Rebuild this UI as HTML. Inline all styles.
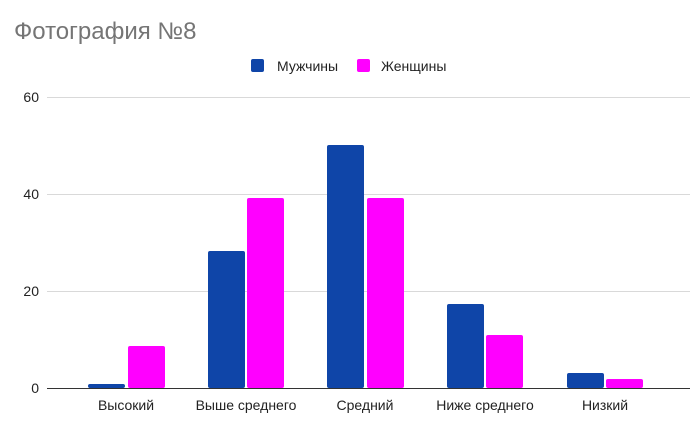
<!DOCTYPE html>
<html><head><meta charset="utf-8"><style>
body{margin:0;background:#fff;}
svg text{font-family:"Liberation Sans",Arial,sans-serif;}
</style></head><body>
<svg width="700" height="426" xmlns="http://www.w3.org/2000/svg">
<rect width="700" height="426" fill="#fff"/>
<text x="14" y="39" font-size="24" fill="#757575">Фотография №8</text>
<rect x="251" y="59" width="13" height="13" rx="2" fill="#0f45a8"/>
<text x="277" y="71" font-size="14" fill="#222">Мужчины</text>
<rect x="357" y="59" width="13" height="13" rx="2" fill="#ff00ff"/>
<text x="381" y="71" font-size="14" fill="#222">Женщины</text>
<g stroke="#d9d9d9" stroke-width="1">
<line x1="47" y1="97.5" x2="690" y2="97.5"/>
<line x1="47" y1="194.5" x2="690" y2="194.5"/>
<line x1="47" y1="291.5" x2="690" y2="291.5"/>
</g>
<g font-size="14" fill="#222" text-anchor="end">
<text x="39" y="102">60</text>
<text x="39" y="199">40</text>
<text x="39" y="296">20</text>
<text x="39" y="393">0</text>
</g>
<g fill="#0f45a8">
<rect x="88" y="384" width="37" height="4" rx="2"/>
<rect x="208" y="251" width="37" height="137" rx="2"/>
<rect x="327" y="145" width="37" height="243" rx="2"/>
<rect x="447" y="304" width="37" height="84" rx="2"/>
<rect x="567" y="373" width="37" height="15" rx="2"/>
</g>
<g fill="#ff00ff">
<rect x="128" y="346" width="37" height="42" rx="2"/>
<rect x="247" y="198" width="37" height="190" rx="2"/>
<rect x="367" y="198" width="37" height="190" rx="2"/>
<rect x="486" y="335" width="37" height="53" rx="2"/>
<rect x="606" y="379" width="37" height="9" rx="2"/>
</g>
<line x1="47" y1="388.5" x2="690" y2="388.5" stroke="#333" stroke-width="1"/>
<g font-size="14" fill="#222" text-anchor="middle">
<text x="126" y="410">Высокий</text>
<text x="246" y="410">Выше среднего</text>
<text x="365" y="410">Средний</text>
<text x="485" y="410">Ниже среднего</text>
<text x="605" y="410">Низкий</text>
</g>
</svg>
</body></html>
